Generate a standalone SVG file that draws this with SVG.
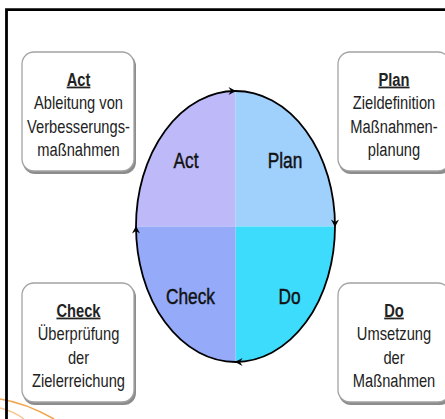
<svg xmlns="http://www.w3.org/2000/svg" width="445" height="419" viewBox="0 0 445 419">
<style>
.bx{fill:#fff;stroke:#a3a3a3;stroke-width:1.3}
.sh{fill:#8c8c8c}
.tt{font-family:"Liberation Sans",Arial,sans-serif;font-size:14.7px;fill:#222;text-anchor:middle}
.hd{font-weight:bold;text-decoration:underline}
.ql{font-family:"Liberation Sans",Arial,sans-serif;font-size:17.3px;fill:#111;stroke:#111;stroke-width:0.35;text-anchor:middle}
.ah{fill:#000}
</style>
<defs>
<path id="arr" d="M0,0 L-7.5,-4 L-5,0 L-7.5,4 Z"/>
</defs>
<rect x="0" y="0" width="445" height="419" fill="#fff"/>
<path d="M0,399 Q26,403 54,419" fill="none" stroke="#F2A54A" stroke-width="1.6"/>
<path d="M0,408 Q13,411 24,419" fill="none" stroke="#F7C792" stroke-width="1.4"/>
<path d="M6.5,419 V9.7 H445" fill="none" stroke="#000" stroke-width="2.8"/>

<g id="cycle">
<path d="M235.5,226.5 L136,226.5 A99.5,135.5 0 0 1 235.5,91 Z" fill="#BEBAF9"/>
<path d="M235.5,226.5 L235.5,91 A99.5,135.5 0 0 1 335,226.5 Z" fill="#A0D0FC"/>
<path d="M235.5,226.5 L335,226.5 A99.5,135.5 0 0 1 235.5,362 Z" fill="#3DDBFC"/>
<path d="M235.5,226.5 L235.5,362 A99.5,135.5 0 0 1 136,226.5 Z" fill="#95AAF8"/>
<ellipse cx="235.5" cy="226.5" rx="99.5" ry="135.5" fill="none" stroke="#000" stroke-width="1.8"/>
<text class="ql" transform="translate(186,167.5) scale(1,1.28)">Act</text>
<text class="ql" transform="translate(285,167.5) scale(1,1.28)">Plan</text>
<text class="ql" transform="translate(190.5,303.5) scale(1,1.28)">Check</text>
<text class="ql" transform="translate(289.5,303.5) scale(1,1.28)">Do</text>
</g>

<g id="connectors">
<use href="#arr" class="ah" transform="translate(236,91)"/>
<use href="#arr" class="ah" transform="translate(335,227) rotate(90)"/>
<use href="#arr" class="ah" transform="translate(235,362) rotate(180)"/>
<use href="#arr" class="ah" transform="translate(136,226) rotate(-90)"/>
</g>

<g id="act">
<rect class="sh" x="23" y="54" width="113" height="120" rx="12"/>
<rect class="bx" x="22" y="52" width="112" height="119" rx="12"/>
<text class="tt hd" transform="translate(78.5,85.5) scale(1,1.2)">Act</text>
<text class="tt" transform="translate(78.5,109) scale(1,1.2)">Ableitung von</text>
<text class="tt" transform="translate(78.5,132.5) scale(1,1.2)">Verbesserungs-</text>
<text class="tt" transform="translate(78.5,156) scale(1,1.2)">maßnahmen</text>
</g>

<g id="plan">
<rect class="sh" x="339" y="54" width="113" height="120" rx="12"/>
<rect class="bx" x="338" y="52" width="112" height="119" rx="12"/>
<text class="tt hd" transform="translate(394,85.5) scale(1,1.2)">Plan</text>
<text class="tt" transform="translate(394,109) scale(1,1.2)">Zieldefinition</text>
<text class="tt" transform="translate(394,132.5) scale(1,1.2)">Maßnahmen-</text>
<text class="tt" transform="translate(394,156) scale(1,1.2)">planung</text>
</g>

<g id="check">
<rect class="sh" x="23" y="285" width="113" height="120" rx="12"/>
<rect class="bx" x="22" y="283" width="112" height="119" rx="12"/>
<text class="tt hd" transform="translate(78.5,316.5) scale(1,1.2)">Check</text>
<text class="tt" transform="translate(78.5,340) scale(1,1.2)">Überprüfung</text>
<text class="tt" transform="translate(78.5,363.5) scale(1,1.2)">der</text>
<text class="tt" transform="translate(78.5,387) scale(1,1.2)">Zielerreichung</text>
</g>

<g id="do">
<rect class="sh" x="339" y="285" width="113" height="120" rx="12"/>
<rect class="bx" x="338" y="283" width="112" height="119" rx="12"/>
<text class="tt hd" transform="translate(394,316.5) scale(1,1.2)">Do</text>
<text class="tt" transform="translate(394,340) scale(1,1.2)">Umsetzung</text>
<text class="tt" transform="translate(394,363.5) scale(1,1.2)">der</text>
<text class="tt" transform="translate(394,387) scale(1,1.2)">Maßnahmen</text>
</g>
</svg>
